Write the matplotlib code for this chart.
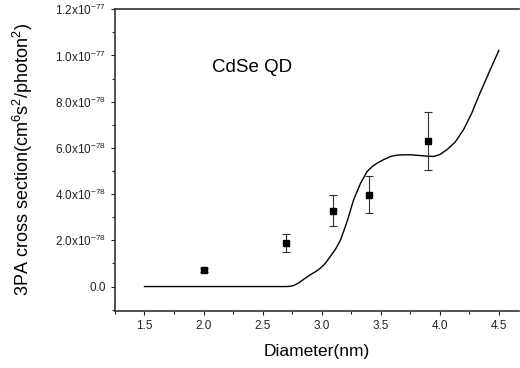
import matplotlib
matplotlib.use("Agg")
import matplotlib.pyplot as plt
from matplotlib.ticker import FixedLocator, FixedFormatter, MultipleLocator

plt.rcParams['font.family'] = ['Liberation Sans', 'DejaVu Sans']
plt.rcParams['mathtext.default'] = 'regular'

# measured points (units of 1e-78)
diam = [2.0, 2.7, 3.1, 3.4, 3.9]
sigma = [0.72, 1.88, 3.28, 3.98, 6.31]
sigma_err = [0.1, 0.39, 0.66, 0.8, 1.26]

# theory curve (units of 1e-78)
curve_x = [1.5, 2.0, 2.5, 2.65, 2.70, 2.73, 2.76, 2.79, 2.82, 2.86, 2.90, 2.95, 2.99, 3.03,
           3.07, 3.12, 3.16, 3.19, 3.22, 3.27, 3.33, 3.385, 3.43, 3.47, 3.52, 3.58, 3.63,
           3.69, 3.76, 3.83, 3.89, 3.95, 4.00, 4.06, 4.13, 4.20, 4.27, 4.34, 4.42, 4.50]
curve_y = [0.0, 0.0, 0.0, 0.0, 0.0, 0.01, 0.04, 0.11, 0.21, 0.36, 0.50, 0.65, 0.80, 1.00,
           1.28, 1.64, 2.02, 2.45, 2.89, 3.75, 4.48, 4.98, 5.20, 5.34, 5.48, 5.62, 5.68,
           5.70, 5.70, 5.67, 5.64, 5.63, 5.71, 5.92, 6.25, 6.78, 7.5, 8.37, 9.3, 10.22]

yticks = [0, 20, 40, 60, 80, 100, 120]
ytick_labels = ["0.0", "2.0x10$^{-78}$", "4.0x10$^{-78}$", "6.0x10$^{-78}$",
                "8.0x10$^{-78}$", "1.0x10$^{-77}$", "1.2x10$^{-77}$"]

fig = plt.figure(figsize=(5.2, 3.68), dpi=100)
ax = fig.add_axes([0.221, 0.156, 0.777, 0.819])

ax.plot(curve_x, [v * 10 for v in curve_y], color="black", lw=1.0)
ax.errorbar(diam, [v * 10 for v in sigma], yerr=[v * 10 for v in sigma_err],
            fmt="s", color="black", ms=5, ecolor="#333333", elinewidth=0.8,
            capsize=3, capthick=0.8)

ax.set_xlim(1.25, 4.67)
ax.set_ylim(-10.4, 120)

ax.xaxis.set_major_locator(FixedLocator([1.5, 2.0, 2.5, 3.0, 3.5, 4.0, 4.5]))
ax.xaxis.set_minor_locator(MultipleLocator(0.25))
ax.yaxis.set_major_locator(FixedLocator(yticks))
ax.yaxis.set_major_formatter(FixedFormatter(ytick_labels))
ax.yaxis.set_minor_locator(MultipleLocator(10))

ax.tick_params(which="both", direction="out", length=3, width=0.8, labelsize=8.5, colors="#222222")
ax.tick_params(which="minor", length=2)

ax.spines["right"].set_visible(False)
for s in ["left", "bottom", "top"]:
    ax.spines[s].set_linewidth(1.2)
    ax.spines[s].set_color("#333333")

ax.set_xlabel("Diameter(nm)", fontsize=12.5, labelpad=9)
ax.yaxis.set_label_coords(-0.198, 0.52)
ax.set_ylabel("3PA cross section(cm$^6$s$^2$/photon$^2$)", fontsize=13)

ax.text(2.07, 94.7, "CdSe QD", fontsize=13.5, va="center")

fig.savefig("out.png", dpi=100)
